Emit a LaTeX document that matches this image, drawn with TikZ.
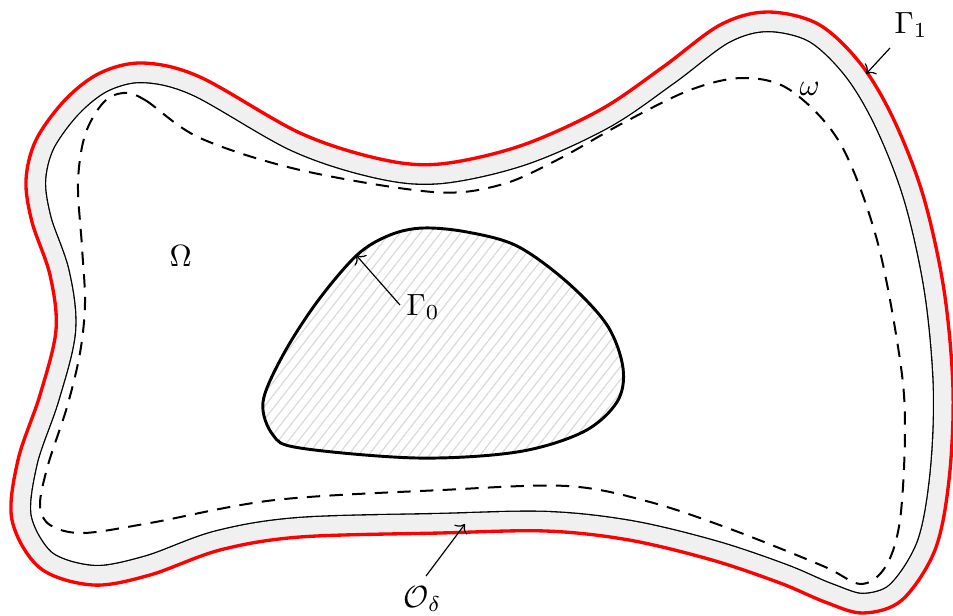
\documentclass[tikz,border=0pt]{standalone}
\usetikzlibrary{arrows.meta,patterns.meta}
\definecolor{bandgray}{HTML}{F0F0F0}
\definecolor{hatchgray}{HTML}{DADADA}
\def\outerP{plot[smooth cycle,tension=0.55] coordinates {
 (143,63) (200,77) (300,133) (380,159) (440,164) (520,146) (600,110) (663,67)
 (720,25) (767,12) (818,24) (860,63) (893,118) (923,195) (944,290) (953,390)
 (949,480) (935,550) (902,600) (863,613) (825,602) (780,583) (712,560) (629,540)
 (546,531) (440,533) (300,537) (220,550) (150,575) (93,585) (40,568) (12,520)
 (18,460) (40,395) (56,330) (50,275) (32,222) (26,180) (36,140) (65,100) (100,73)}}
\def\innerP{plot[smooth cycle,tension=0.55] coordinates {
 (423,228) (390,235) (357,255) (317,302) (283,355) (263,402) (273,435) (300,448)
 (417,458) (517,452) (583,432) (617,402) (623,368) (607,325) (567,282) (517,246)
 (467,232)}}
\tikzset{
 lbl/.style={scale=2.3,inner sep=0pt,anchor=base west},
 ptr/.style={line width=0.9pt,-{To[scale=1.6]}},
}
\begin{document}
\begin{tikzpicture}[x=0.75pt,y=-0.75pt]
\useasboundingbox (0,0) rectangle (953,615);
% band between Gamma_1 and the inner thin curve
\begin{scope}
 \clip \outerP;
 \draw[line width=30.4pt,black] \outerP;
 \draw[line width=28.4pt,bandgray] \outerP;
\end{scope}
\draw[line width=2.5pt,red] \outerP;
% omega (dashed)
\draw[line width=1.5pt,dash pattern=on 10pt off 7pt]
 plot[smooth cycle,tension=0.55] coordinates {
 (123,93) (145,100) (200,138) (300,170) (433,192) (500,185) (557,160) (623,123)
 (690,90) (743,78) (790,90) (840,143) (877,240) (900,360) (905,430) (900,520)
 (886,566) (861,584) (823,566) (733,530) (650,502) (567,486) (442,490) (275,500)
 (150,523) (83,533) (50,525) (40,505) (48,465) (67,407) (80,353) (85,303)
 (82,247) (78,183) (85,135) (103,103)};
% Gamma_0 (hatched obstacle)
\path[pattern={Lines[angle=52,distance=6pt,line width=0.9pt]},pattern color=hatchgray] \innerP;
\draw[line width=2.2pt] \innerP;
% labels
\node[lbl] (g1) at (894,33) {$\Gamma_1$};
\node[lbl] (g0) at (406,315) {$\Gamma_0$};
\node[lbl] (Om) at (169,266) {$\Omega$};
\node[lbl] (om) at (799,95) {$\omega$};
\node[lbl] (Od) at (403,607) {$\mathcal{O}_\delta$};
% arrows
\coordinate (g1t) at (890,48);
\coordinate (g1h) at (866,74);
\coordinate (g0t) at (400,305);
\coordinate (g0h) at (356,255);
\coordinate (odt) at (426,576);
\coordinate (odh) at (465,524);
\draw[ptr] (g1t) -- (g1h);
\draw[ptr] (g0t) -- (g0h);
\draw[ptr] (odt) -- (odh);
\end{tikzpicture}
\end{document}
